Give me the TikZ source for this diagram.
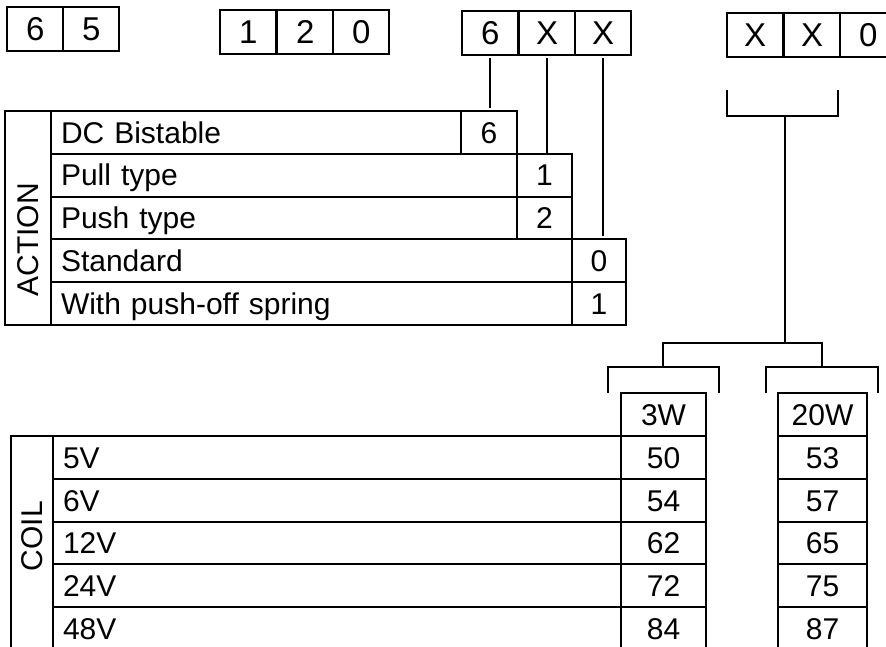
\documentclass[tikz,border=0pt]{standalone}
\usepackage{fontspec}
\setmainfont{Liberation Sans}
\usepackage{tikz}
\tikzset{
	codecell/.style={draw=black, line width=1pt, outer sep=0pt, inner sep=0pt, minimum width=28.2pt, minimum height=22pt, font=\fontsize{16.5}{19}\selectfont, text height=11.8pt, text depth=0pt, anchor=north west},
	numcell/.style={draw=black, line width=1pt, outer sep=0pt, inner sep=0pt, minimum width=#1, minimum height=21.4pt, text height=10.8pt, text depth=0pt, anchor=north west},
	rowbox/.style={draw=black, line width=1pt, outer sep=0pt, inner xsep=5pt, inner ysep=0pt, text width=#1, align=left, minimum height=21.4pt, text height=10.8pt, text depth=0pt, anchor=north west},
	sidebox/.style={draw=black, line width=1pt, outer sep=0pt, inner sep=0pt, minimum width=#1, minimum height=107pt, anchor=north west},
	wire/.style={line width=1pt}
}

\begin{document}
\begin{tikzpicture}[x=0.5pt,y=-0.5pt,font=\fontsize{15}{18}\selectfont]
			\useasboundingbox (0,0) rectangle (886,646);
			\clip (0,0) rectangle (886,646);
			% order code
			\node[codecell] (pa) at (7,7) {6};
			\node[codecell] (pb) at (63,7) {5};
			\node[codecell] (na) at (220,10) {1};
			\node[codecell] (nb) at (277,10) {2};
			\node[codecell] (nc) at (333,10) {0};
			\node[codecell] (c6) at (462,11) {6};
			\node[codecell] (cxa) at (519,11) {X};
			\node[codecell] (cxb) at (575,11) {X};
			\node[codecell] (vxa) at (727,13) {X};
			\node[codecell] (vxb) at (784,13) {X};
			\node[codecell] (v0) at (840,13) {0};
			
			% action table
			\node[sidebox=23pt] (actbox) at (5,111) {};
			\node[rotate=90] (acttxt) at (28,240) {ACTION};
			\node[rowbox=195pt] (dctxt) at (51,111) {DC Bistable};
			\node[numcell=28pt] (dc6) at (461,111) {6};
			\node[rowbox=223pt] (pulltxt) at (51,153.8) {Pull type};
			\node[numcell=27.5pt] (pull1) at (517,153.8) {1};
			\node[rowbox=223pt] (pushtxt) at (51,196.6) {Push type};
			\node[numcell=27.5pt] (push2) at (517,196.6) {2};
			\node[rowbox=250.5pt] (stdtxt) at (51,239.4) {Standard};
			\node[numcell=27pt] (std0) at (572,239.4) {0};
			\node[rowbox=250.5pt] (springtxt) at (51,282.2) {With push-off spring};
			\node[numcell=27pt] (spring1) at (572,282.2) {1};
			
			\draw[wire, shorten <=1.5pt, shorten >=1.5pt] (c6.south) -- (c6.south |- dc6.north);
			\draw[wire, shorten <=1.5pt] (cxa.south) -- (cxa.south |- pull1.north);
			\draw[wire, shorten <=1.5pt, shorten >=1.5pt] (cxb.south) -- (cxb.south |- std0.north);
			
			% coil brackets
			\coordinate (vl) at (727,90);
			\coordinate (vr) at (838,90);
			\coordinate (vm) at (785,116);
			\coordinate (sj) at (785,343);
			\coordinate (sl) at (663,367);
			\coordinate (sr) at (822,367);
			\coordinate (wl) at (608,393);
			\coordinate (wr) at (719,393);
			\coordinate (kl) at (766,393);
			\coordinate (kr) at (878,393);
			\draw[wire] (vl) -- ++(0,26) -| (vr);
			\draw[wire] (vm) -- (sj);
			\draw[wire] (sl) -- ++(0,-24) -| (sr);
			\draw[wire] (wl) -- ++(0,-26) -| (wr);
			\draw[wire] (kl) -- ++(0,-26) -| (kr);
			
			% coil table
			\node[numcell=42.5pt] (w3) at (621,393) {3W};
			\node[numcell=44.5pt] (w20) at (778,393) {20W};
			\node[sidebox=21pt] (coilbox) at (11,436) {};
			\node[rotate=90] (coiltxt) at (32,536) {COIL};
			\node[rowbox=274pt] (v5) at (53,436) {5V};
			\node[numcell=42.5pt] (v5a) at (621,436) {50};
			\node[numcell=44.5pt] (v5b) at (778,436) {53};
			\node[rowbox=274pt] (v6) at (53,478.8) {6V};
			\node[numcell=42.5pt] (v6a) at (621,478.8) {54};
			\node[numcell=44.5pt] (v6b) at (778,478.8) {57};
			\node[rowbox=274pt] (v12) at (53,521.6) {12V};
			\node[numcell=42.5pt] (v12a) at (621,521.6) {62};
			\node[numcell=44.5pt] (v12b) at (778,521.6) {65};
			\node[rowbox=274pt] (v24) at (53,564.4) {24V};
			\node[numcell=42.5pt] (v24a) at (621,564.4) {72};
			\node[numcell=44.5pt] (v24b) at (778,564.4) {75};
			\node[rowbox=274pt] (v48) at (53,607.2) {48V};
			\node[numcell=42.5pt] (v48a) at (621,607.2) {84};
			\node[numcell=44.5pt] (v48b) at (778,607.2) {87};
		\end{tikzpicture}
\end{document}
